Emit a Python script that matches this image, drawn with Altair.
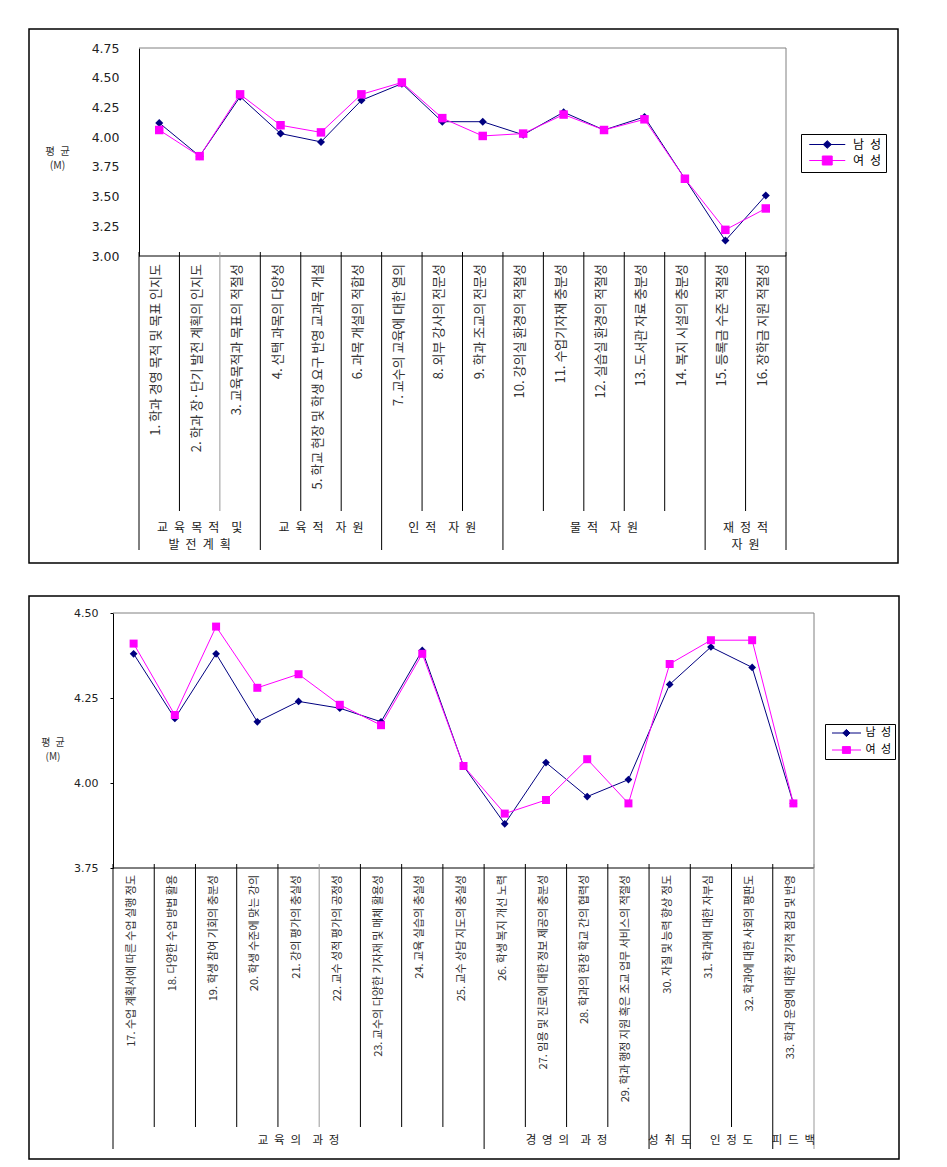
import altair as alt
import pandas as pd

KR = "Noto Sans CJK KR"
NUM = "DejaVu Sans"
NAVY = "#000080"
MAGENTA = "#ff00ff"

series_names = ["남 성", "여 성"]

# ---------------- top chart ----------------
top_index = list(range(1, 17))
top_labels = [
    "1. 학과 경영 목적 및 목표 인지도",
    "2. 학과 장·단기 발전 계획의 인지도",
    "3. 교육목적과 목표의 적절성",
    "4. 선택 과목의 다양성",
    "5. 학교 현장 및 학생 요구 반영 교과목 개설",
    "6. 과목 개설의 적합성",
    "7. 교수의 교육에 대한 열의",
    "8. 외부 강사의 전문성",
    "9. 학과 조교의 전문성",
    "10. 강의실 환경의 적절성",
    "11. 수업기자재 충분성",
    "12. 실습실 환경의 적절성",
    "13. 도서관 자료 충분성",
    "14. 복지 시설의 충분성",
    "15. 등록금 수준 적절성",
    "16. 장학금 지원 적절성",
]
top_male = [4.12, 3.84, 4.34, 4.03, 3.96, 4.31, 4.45, 4.13, 4.13, 4.02, 4.21, 4.06, 4.17, 3.65, 3.13, 3.51]
top_female = [4.06, 3.84, 4.36, 4.10, 4.04, 4.36, 4.46, 4.16, 4.01, 4.03, 4.19, 4.06, 4.15, 3.65, 3.22, 3.40]
top_group_bounds = [0.5, 3.5, 6.5, 9.5, 14.5, 16.5]
top_group_line1 = ["교 육 목 적  및", "교 육 적  자 원", "인 적  자 원", "물 적  자 원", "재 정 적"]
top_group_line2 = ["발 전 계 획", "", "", "", "자 원"]
top_gray_dividers = [2.5]
top_yticks = [3.00, 3.25, 3.50, 3.75, 4.00, 4.25, 4.50, 4.75]
top_ydomain = [3.00, 4.75]

# ---------------- bottom chart ----------------
bot_index = list(range(17, 34))
bot_labels = [
    "17. 수업 계획서에 따른 수업 실행 정도",
    "18. 다양한 수업 방법 활용",
    "19. 학생 참여 기회의 충분성",
    "20. 학생 수준에 맞는 강의",
    "21. 강의 평가의 충실성",
    "22. 교수 성적 평가의 공정성",
    "23. 교수의 다양한 기자재 및 매체 활용성",
    "24. 교육 실습의 충실성",
    "25. 교수 상담 지도의 충실성",
    "26. 학생 복지 개선 노력",
    "27. 임용 및 진로에 대한 정보 제공의 충분성",
    "28. 학과의 현장 학교 간의 협력성",
    "29. 학과 행정 지원 혹은 조교 업무 서비스의 적절성",
    "30. 자질 및 능력 향상 정도",
    "31. 학과에 대한 자부심",
    "32. 학과에 대한 사회의 평판도",
    "33. 학과 운영에 대한 정기적 점검 및 반영",
]
bot_male = [4.38, 4.19, 4.38, 4.18, 4.24, 4.22, 4.18, 4.39, 4.05, 3.88, 4.06, 3.96, 4.01, 4.29, 4.40, 4.34, 3.94]
bot_female = [4.41, 4.20, 4.46, 4.28, 4.32, 4.23, 4.17, 4.38, 4.05, 3.91, 3.95, 4.07, 3.94, 4.35, 4.42, 4.42, 3.94]
bot_group_bounds = [16.5, 25.5, 29.5, 30.5, 32.5, 33.5]
bot_group_line1 = ["교 육 의  과 정", "경 영 의  과 정", "성 취 도", "인 정 도", "피 드 백"]
bot_group_line2 = ["", "", "", "", ""]
bot_gray_dividers = [21.5, 33.5]
bot_yticks = [3.75, 4.00, 4.25, 4.50]
bot_ydomain = [3.75, 4.50]

TOP_GEOM = dict(
    w=869, h=534, px0=110, px1=757, py0=19, py1=227,
    label_gap=8, inner_end=255, group_end=294, group_y=[272, 289],
    label_size=13, group_size=12, tick_font=12.5, tick_len=0, label_pad=20,
    title_x=-82, title_y=122.5, title_size=10.5, dy=-3,
    msize=64, ssize=72,
    legend_x=772, legend_y=105, legend_pad=4.5, legend_font=12, sym_size=81,
    label_offset=35.5, row_pad=3,
    paths=["M-0.5,0L7.5,0M2.6,0L3.5,-0.85L4.4,0L3.5,0.85Z",
           "M-0.5,0L7.5,0M2.4,-1L4.6,-1L4.6,1L2.4,1Z"],
)
BOT_GEOM = dict(
    w=870, h=563, px0=84, px1=785, py0=17, py1=272,
    label_gap=7, inner_end=259, group_end=281, group_y=[273, 290],
    label_size=11, group_size=11.5, tick_font=11, tick_len=3, label_pad=12,
    title_x=-60.5, title_y=146.5, title_size=10, dy=-2,
    msize=60, ssize=64,
    legend_x=796, legend_y=128, legend_pad=3.5, legend_font=11, sym_size=64,
    label_offset=26, row_pad=4,
    paths=["M-0.5,0L6.75,0M2.2,0L3.1,-0.9L4.0,0L3.1,0.9Z",
           "M-0.5,0L6.75,0M2.1,-0.85L4.1,-0.85L4.1,0.85L2.1,0.85Z"],
)


def make_panel(idx, labels, male, female, bounds, gray, line1, line2, yticks, ydom, g):
    lo, hi = idx[0] - 0.5, idx[-1] + 0.5
    xs = alt.Scale(domain=[lo, hi], range=[g["px0"], g["px1"]], nice=False, zero=False)
    ys = alt.Scale(domain=ydom, range=[g["py1"], g["py0"]], nice=False, zero=False)
    ts = alt.Scale(domain=[0, 300], range=[g["py1"], g["py1"] + 300], nice=False, zero=False)

    yaxis = alt.Axis(
        values=yticks, format=".2f", orient="left", offset=-g["px0"], grid=False,
        domainColor="black", domainWidth=1, tickColor="black", tickSize=g["tick_len"],
        labelPadding=g["label_pad"], labelFont=NUM, labelFontSize=g["tick_font"],
        labelColor="#222",
        title=["평\u2002균", "(M)"], titleAngle=0, titleX=g["title_x"], titleY=g["title_y"],
        titleAlign="center", titleBaseline="middle", titleFont=KR,
        titleFontSize=g["title_size"], titleFontWeight="normal", titleColor="#333",
        titleLineHeight=14,
    )

    X = alt.X("i:Q", scale=xs, axis=None)
    Y = alt.Y("v:Q", scale=ys, axis=yaxis)

    dm = pd.DataFrame({"i": idx, "v": male})
    dfm = pd.DataFrame({"i": idx, "v": female})

    line_m = alt.Chart(dm).mark_line(color=NAVY, strokeWidth=1).encode(x=X, y=Y)
    line_f = alt.Chart(dfm).mark_line(color=MAGENTA, strokeWidth=1).encode(x=X, y=Y)
    pt_m = alt.Chart(dm).mark_point(shape="diamond", filled=True, color=NAVY,
                                    size=g["msize"], opacity=1).encode(x=X, y=Y)
    pt_f = alt.Chart(dfm).mark_point(shape="square", filled=True, color=MAGENTA,
                                     size=g["ssize"], opacity=1).encode(x=X, y=Y)

    fr_top = alt.Chart(pd.DataFrame({"i": [lo], "i2": [hi], "v": [ydom[1]]})).mark_rule(
        color="#808080", strokeWidth=1).encode(x=X, x2="i2:Q", y=Y)
    fr_right = alt.Chart(pd.DataFrame({"i": [hi], "v": [ydom[0]], "v2": [ydom[1]]})).mark_rule(
        color="#808080", strokeWidth=1).encode(x=X, y=Y, y2="v2:Q")
    x_axis_line = alt.Chart(pd.DataFrame({"i": [lo], "i2": [hi], "v": [ydom[0]]})).mark_rule(
        color="black", strokeWidth=1).encode(x=X, x2="i2:Q", y=Y)

    legend = alt.Legend(
        title=None, orient="none", legendX=g["legend_x"], legendY=g["legend_y"],
        direction="vertical", strokeColor="black", fillColor="white",
        padding=g["legend_pad"], labelFont=KR, labelFontSize=g["legend_font"],
        labelColor="black", labelOffset=g["label_offset"], symbolSize=g["sym_size"],
        symbolStrokeWidth=1, symbolOpacity=1, rowPadding=g["row_pad"],
        labelExpr="replace(datum.label, ' ', '\u2002')",
    )
    leg_df = pd.DataFrame({"i": [idx[0], idx[0]], "v": [male[0], female[0]], "s": series_names})
    cscale = alt.Scale(domain=series_names, range=[NAVY, MAGENTA])
    leg_layer = alt.Chart(leg_df).mark_point(filled=True, opacity=0).encode(
        x=X, y=Y,
        fill=alt.Fill("s:N", scale=cscale, legend=legend),
        stroke=alt.Stroke("s:N", scale=cscale, legend=legend),
        shape=alt.Shape("s:N", scale=alt.Scale(domain=series_names, range=g["paths"]), legend=legend),
    )

    value_layer = alt.layer(fr_top, fr_right, x_axis_line, line_m, line_f, pt_m, pt_f, leg_layer)

    # ---- table under the plot ----
    all_b = [lo + k for k in range(len(idx) + 1)]
    ends = [g["group_end"] if b in bounds else g["inner_end"] for b in all_b]
    cols = ["#999999" if b in gray else "black" for b in all_b]
    div_df = pd.DataFrame({"b": all_b, "t0": [-4] * len(all_b), "t1": ends, "c": cols})
    TX = alt.X("b:Q", scale=xs, axis=None)
    dividers = alt.Chart(div_df).mark_rule(strokeWidth=1).encode(
        x=TX, y=alt.Y("t0:Q", scale=ts, axis=None), y2="t1:Q",
        color=alt.Color("c:N", scale=None))

    lab_df = pd.DataFrame({"i": idx, "t": [g["label_gap"]] * len(idx), "label": labels})
    cat_labels = alt.Chart(lab_df).mark_text(
        angle=270, align="right", baseline="middle", dy=g["dy"], font=KR,
        fontSize=g["label_size"], color="#333").encode(
        x=X, y=alt.Y("t:Q", scale=ts, axis=None), text="label:N")

    gx, gy, gt = [], [], []
    for k in range(len(line1)):
        mid = (bounds[k] + bounds[k + 1]) / 2
        for j, txt in enumerate([line1[k], line2[k]]):
            if txt:
                gx.append(mid)
                gy.append(g["group_y"][j])
                gt.append(txt.replace(" ", "\u2002"))
    grp_df = pd.DataFrame({"b": gx, "t": gy, "txt": gt})
    grp_labels = alt.Chart(grp_df).mark_text(
        align="center", baseline="middle", font=KR, fontSize=g["group_size"],
        color="#222").encode(x=TX, y=alt.Y("t:Q", scale=ts, axis=None), text="txt:N")

    table_layer = alt.layer(dividers, cat_labels, grp_labels)

    return alt.layer(value_layer, table_layer).resolve_scale(y="independent").properties(
        width=g["w"], height=g["h"])


top = make_panel(top_index, top_labels, top_male, top_female, top_group_bounds,
                 top_gray_dividers, top_group_line1, top_group_line2,
                 top_yticks, top_ydomain, TOP_GEOM)
bot = make_panel(bot_index, bot_labels, bot_male, bot_female, bot_group_bounds,
                 bot_gray_dividers, bot_group_line1, bot_group_line2,
                 bot_yticks, bot_ydomain, BOT_GEOM)

chart = alt.vconcat(top, bot, spacing=31).resolve_scale(
    fill="independent", stroke="independent", shape="independent"
).resolve_legend(
    fill="independent", stroke="independent", shape="independent"
).properties(
    padding={"left": 20, "top": 20, "right": 5, "bottom": 5},
    background="white",
).configure_view(stroke="black", strokeWidth=1.5)

chart.save("out.html", embed_options={"renderer": "svg", "actions": False})
